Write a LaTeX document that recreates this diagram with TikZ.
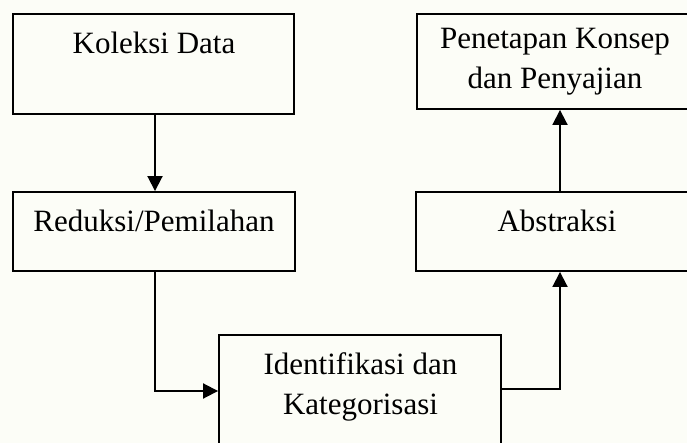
\documentclass[tikz,border=0pt]{standalone}
\usepackage{fontspec}
\setmainfont{Liberation Serif}
\usetikzlibrary{arrows.meta}
\definecolor{bgcol}{RGB}{252,253,247}
\tikzset{
  boxnode/.style={draw=black, line width=1.9pt, rectangle, inner sep=0pt, fill=none},
  txt/.style={font=\fontsize{31}{40}\selectfont, align=center, inner sep=0pt, anchor=base},
  conn/.style={draw=black, line width=1.9pt, -{Triangle[width=15pt,length=15pt]}},
}
\begin{document}
\begin{tikzpicture}[x=1pt,y=-1pt]
\useasboundingbox (0,0) rectangle (687,443);
\fill[bgcol] (0,0) rectangle (687,443);
\clip (0,0) rectangle (687,443);
% boxes
\node[boxnode, minimum width=281pt, minimum height=100pt] (kol) at (153.5,64) {};
\node[boxnode, minimum width=282pt, minimum height=79pt] (red) at (154,231.5) {};
\node[boxnode, minimum width=276pt, minimum height=95pt] (pen) at (555,61.5) {};
\node[boxnode, minimum width=282pt, minimum height=79pt] (abs) at (557,231.5) {};
\node[boxnode, minimum width=282pt, minimum height=130pt] (idn) at (360,400) {};
% texts
\node[txt] (tkol) at (154,54) {Koleksi Data};
\node[txt] (tred) at (154,231.5) {Reduksi/Pemilahan};
\node[txt] (tpen) at (555,89) {Penetapan Konsep\\dan Penyajian};
\node[txt] (tabs) at (557,231.5) {Abstraksi};
\node[txt] (tidn) at (360.5,414) {Identifikasi dan\\Kategorisasi};
% connectors
\coordinate (c1) at (155,391);
\coordinate (c2) at (560,389);
\draw[conn] (kol.south -| 155,0) -- (red.north -| 155,0);
\draw[conn] (red.south -| 155,0) -- (c1) -- (idn.west |- c1);
\draw[conn] (idn.east |- c2) -- (c2) -- (abs.south -| c2);
\draw[conn] (abs.north -| c2) -- (pen.south -| c2);
\end{tikzpicture}
\end{document}
